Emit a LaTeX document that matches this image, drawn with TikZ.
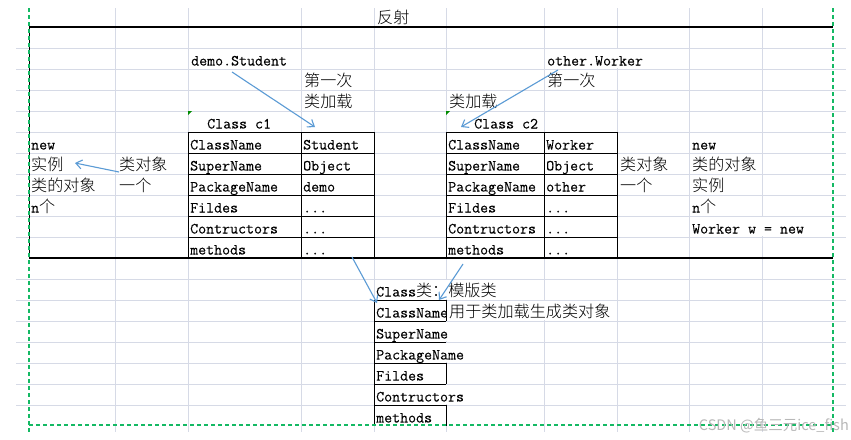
\documentclass[tikz,border=0pt]{standalone}
\usepackage{fontspec}
\setmonofont{Latin Modern Mono}[FakeBold=0.06]
\newfontfamily\cjk{Noto Sans CJK SC Light}[Scale=1.04]
\newfontfamily\wmfont{Noto Sans CJK SC}
\usetikzlibrary{arrows.meta}
\definecolor{gridc}{RGB}{214,218,230}
\definecolor{pgreen}{RGB}{20,185,100}
\definecolor{arrowc}{RGB}{91,155,213}
\definecolor{markg}{RGB}{0,140,0}
\newcommand\zh[1]{{\cjk #1}}
\begin{document}
\begin{tikzpicture}[x=1pt,y=-1pt,
  cell/.style={anchor=base west, inner sep=0pt, font=\fontsize{15.5}{18}\selectfont\ttfamily},
  gridline/.style={draw=gridc, line width=0.8pt},
  tab/.style={draw=black, line width=0.9pt},
  thick border/.style={draw=black, line width=1.8pt},
  pagebreak/.style={draw=pgreen, line width=1.2pt, dash pattern=on 4pt off 3pt},
  arr/.style={draw=arrowc, line width=1.1pt, -{Straight Barb[length=6pt,width=9pt]}},
  gapfill/.style={fill=white, draw=none},
  cornermark/.style={fill=markg, draw=none}]
\useasboundingbox (0,0) rectangle (851,439);
\fill[white] (0,0) rectangle (851,439);
% grid
\foreach \yy in {48,69,90,111,132,153,174,195,216,237,279,300,321,342,363,384,405}
  \draw[gridline] (16,\yy) -- (846,\yy);
\foreach \xx in {115,188,301,374,446,544,617,689,762}
  \draw[gridline] (\xx,8) -- (\xx,432);
% hidden gridline segments under overflowing text
\fill[gapfill] (444.5,279.6) rectangle (447.5,299.4);
\fill[gapfill] (444.5,321.6) rectangle (447.5,341.4);
\fill[gapfill] (444.5,342.6) rectangle (447.5,362.4);
\fill[gapfill] (444.5,384.6) rectangle (447.5,404.4);
\fill[gapfill] (542.5,300.6) rectangle (545.5,320.4);
\fill[gapfill] (760.5,216.6) rectangle (763.5,236.4);
\fill[gapfill] (615.5,48.6) rectangle (618.5,68.4);
% thick borders
\draw[tab] (29,27) -- (29,258);
\draw[thick border] (29,27) -- (833,27);
\draw[thick border] (29,258) -- (833,258);
% Student table
\draw[tab] (188,132) rectangle (374,258);
\draw[tab] (301,132) -- (301,258);
\foreach \yy in {153,174,195,216,237} \draw[tab] (188,\yy) -- (374,\yy);
% Worker table
\draw[tab] (446,132) rectangle (617,258);
\draw[tab] (544,132) -- (544,258);
\foreach \yy in {153,174,195,216,237} \draw[tab] (446,\yy) -- (617,\yy);
% Class table
\draw[tab] (374,300) -- (374,426);
\foreach \yy in {300,321,342,363,384,405} \draw[tab] (374,\yy) -- (446,\yy);
\draw[tab] (446,300) -- (446,321);
\draw[tab] (446,363) -- (446,384);
\draw[tab] (446,405) -- (446,426);
% page break lines
\draw[pagebreak] (29,8) -- (29,432);
\draw[pagebreak] (833,8) -- (833,432);
\draw[pagebreak] (29,425) -- (833,425);
% green markers
\fill[cornermark] (188,111) -- (192,111) -- (188,115) -- cycle;
\fill[cornermark] (446,111) -- (450,111) -- (446,115) -- cycle;
% texts top
\node[cell] (fanshe) at (377,23.5) {\zh{反射}};
\node[cell] (demostu) at (191,65.5) {demo.Student};
\node[cell] (first1) at (304,86.5) {\zh{第一次}};
\node[cell] (load1) at (304,107.5) {\zh{类加载}};
\node[cell] (c1) at (207,128.5) {Class c1};
\node[cell] (othwork) at (547,65.5) {other.Worker};
\node[cell] (first2) at (547,86.5) {\zh{第一次}};
\node[cell] (load2) at (449,107.5) {\zh{类加载}};
\node[cell] (c2) at (474,128.5) {Class c2};
% left column
\node[cell] (lnew) at (31,149.5) {new};
\node[cell] (lshili) at (31,170.5) {\zh{实例}};
\node[cell] (ldx) at (31,191.5) {\zh{类的对象}};
\node[cell] (ln) at (31,212.5) {n\zh{个}};
\node[cell] (lcls) at (119,170.5) {\zh{类对象}};
\node[cell] (lone) at (119,191.5) {\zh{一个}};
% Student table text
\node[cell] (s1a) at (190,149.5) {ClassName};
\node[cell] (s1b) at (303,149.5) {Student};
\node[cell] (s2a) at (190,170.5) {SuperName};
\node[cell] (s2b) at (303,170.5) {Object};
\node[cell] (s3a) at (190,191.5) {PackageName};
\node[cell] (s3b) at (303,191.5) {demo};
\node[cell] (s4a) at (190,212.5) {Fildes};
\node[cell] (s4b) at (303,212.5) {...};
\node[cell] (s5a) at (190,233.5) {Contructors};
\node[cell] (s5b) at (303,233.5) {...};
\node[cell] (s6a) at (190,254.5) {methods};
\node[cell] (s6b) at (303,254.5) {...};
% Worker table text
\node[cell] (w1a) at (448,149.5) {ClassName};
\node[cell] (w1b) at (546,149.5) {Worker};
\node[cell] (w2a) at (448,170.5) {SuperName};
\node[cell] (w2b) at (546,170.5) {Object};
\node[cell] (w3a) at (448,191.5) {PackageName};
\node[cell] (w3b) at (546,191.5) {other};
\node[cell] (w4a) at (448,212.5) {Fildes};
\node[cell] (w4b) at (546,212.5) {...};
\node[cell] (w5a) at (448,233.5) {Contructors};
\node[cell] (w5b) at (546,233.5) {...};
\node[cell] (w6a) at (448,254.5) {methods};
\node[cell] (w6b) at (546,254.5) {...};
% right side
\node[cell] (rcls) at (620,170.5) {\zh{类对象}};
\node[cell] (rone) at (620,191.5) {\zh{一个}};
\node[cell] (rnew) at (692,149.5) {new};
\node[cell] (rdx) at (692,170.5) {\zh{类的对象}};
\node[cell] (rshili) at (692,191.5) {\zh{实例}};
\node[cell] (rn) at (692,212.5) {n\zh{个}};
\node[cell] (rw) at (692,233.5) {Worker w = new};
% bottom Class table
\node[cell] (ctitle) at (376,296.5) {Class\zh{类：模版类}};
\begin{scope}
  \clip (374,300) rectangle (446,321);
  \node[cell] (b1) at (376,317.5) {ClassName};
\end{scope}
\node[cell] (bnote) at (449,317.5) {\zh{用于类加载生成类对象}};
\node[cell] (b2) at (376,338.5) {SuperName};
\node[cell] (b3) at (376,359.5) {PackageName};
\node[cell] (b4) at (376,380.5) {Fildes};
\node[cell] (b5) at (376,401.5) {Contructors};
\node[cell] (b6) at (376,422.5) {methods};
% watermark
\node[anchor=east, inner sep=0pt, text=black!28, font=\wmfont\fontsize{14.5}{16}\selectfont] (wm) at (849,426) {CSDN @鱼三元ice\_fish};
% arrows
\coordinate (a1s) at (232,72);  \coordinate (a1e) at (315,127);
\coordinate (a2s) at (558,70);  \coordinate (a2e) at (461,127);
\coordinate (a3s) at (119,172); \coordinate (a3e) at (75,163);
\coordinate (a4s) at (352,257); \coordinate (a4e) at (377,303);
\coordinate (a5s) at (463,264); \coordinate (a5e) at (439,300);
\draw[arr] (a1s) -- (a1e);
\draw[arr] (a2s) -- (a2e);
\draw[arr] (a3s) -- (a3e);
\draw[arr] (a4s) -- (a4e);
\draw[arr] (a5s) -- (a5e);
\end{tikzpicture}
\end{document}
